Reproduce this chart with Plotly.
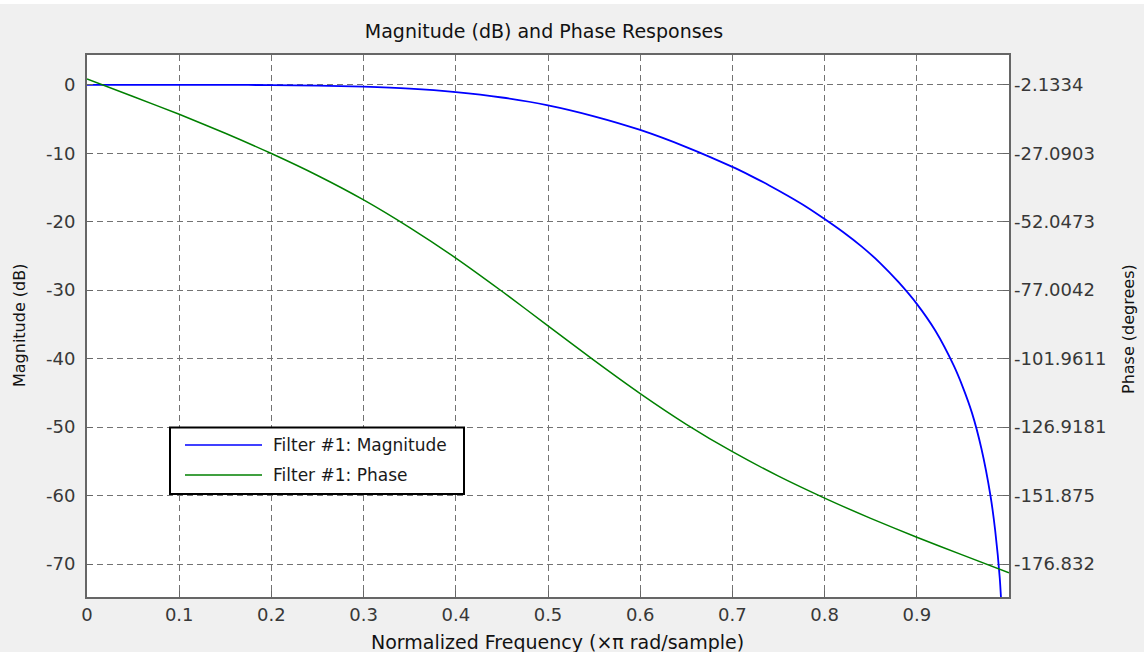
import plotly.graph_objects as go

# ---------------- data ----------------
freq_mag = [0, 0.05, 0.1, 0.15, 0.2, 0.25, 0.3, 0.35, 0.4, 0.45, 0.5, 0.55, 0.6,
            0.65, 0.7, 0.72, 0.74, 0.76, 0.78, 0.8, 0.82, 0.84, 0.86, 0.88, 0.9, 0.92,
            0.94, 0.95, 0.96, 0.97, 0.98, 0.985, 0.99, 0.995]
mag_db = [0, 0, 0, -0.01, -0.05, -0.13, -0.28, -0.56, -1.07, -1.86, -3.0, -4.6, -6.6,
          -9.1, -12.0, -13.3, -14.7, -16.2, -17.8, -19.6, -21.5, -23.6, -26.0, -28.8, -32.0,
          -35.9, -41.0, -44.2, -48.0, -53.1, -60.1, -65.1, -72.1, -84.2]

freq_phase = [0, 0.05, 0.1, 0.15, 0.2, 0.25, 0.3, 0.35, 0.4, 0.45, 0.5, 0.55, 0.6,
              0.65, 0.7, 0.75, 0.8, 0.85, 0.9, 0.95, 1.0]
phase_deg = [0, -6.4, -12.9, -19.8, -27.2, -35.2, -44.1, -54.2, -65.3, -77.4, -90.0,
             -102.6, -114.7, -125.9, -135.9, -144.8, -152.8, -160.2, -167.1, -173.6, -180.0]

x_ticks = [0, 0.1, 0.2, 0.3, 0.4, 0.5, 0.6, 0.7, 0.8, 0.9]
x_ticktext = ["0", "0.1", "0.2", "0.3", "0.4", "0.5", "0.6", "0.7", "0.8", "0.9"]
mag_ticks = [0, -10, -20, -30, -40, -50, -60, -70]
mag_ticktext = ["0", "-10", "-20", "-30", "-40", "-50", "-60", "-70"]
phase_ticks = [-2.1334, -27.0903, -52.0473, -77.0042, -101.9611, -126.9181, -151.875, -176.832]
phase_ticktext = ["-2.1334", "-27.0903", "-52.0473", "-77.0042", "-101.9611", "-126.9181",
                  "-151.875", "-176.832"]

series_names = ["Filter #1: Magnitude", "Filter #1: Phase"]
series_colors = ["#0000ff", "#008000"]

mag_range = [-74.82, 4.35]
# phase axis is linked linearly to magnitude axis (same grid)
ph_scale = (phase_ticks[1] - phase_ticks[0]) / (mag_ticks[1] - mag_ticks[0])
phase_range = [phase_ticks[0] + ph_scale * mag_range[0], phase_ticks[0] + ph_scale * mag_range[1]]

FONT = "DejaVu Sans"
TICK_COLOR = "#383838"
TEXT_COLOR = "#121212"
GRID_COLOR = "#737373"
FRAME_COLOR = "#666666"

fig = go.Figure()
fig.add_trace(go.Scatter(x=freq_mag, y=mag_db, mode="lines", name=series_names[0],
                         line=dict(color=series_colors[0], width=1.8, shape="spline", smoothing=0.6),
                         showlegend=False))
fig.add_trace(go.Scatter(x=freq_phase, y=phase_deg, mode="lines", name=series_names[1],
                         yaxis="y2",
                         line=dict(color=series_colors[1], width=1.5, shape="spline", smoothing=0.6),
                         showlegend=False))

W, H = 1144, 652
L, R, T, B = 87, 135, 55, 55
pw, ph = W - L - R, H - T - B


def px_to_paper(px, py):
    return (px - L) / pw, (H - B - py) / ph


fig.update_layout(
    width=W, height=H,
    margin=dict(l=L, r=R, t=T, b=B, pad=0),
    paper_bgcolor="#f0f0f0",
    plot_bgcolor="#ffffff",
    font=dict(family=FONT, size=18, color=TICK_COLOR),
    title=dict(text="Magnitude (dB) and Phase Responses", x=544 / W, xref="container",
               xanchor="center", y=1 - 31 / H, yref="container", yanchor="middle",
               font=dict(family=FONT, size=19, color=TEXT_COLOR)),
    xaxis=dict(range=[0, 1], tickvals=x_ticks, ticktext=x_ticktext,
               showgrid=True, gridcolor=GRID_COLOR, griddash="6px,4px", gridwidth=1.4,
               showline=True, linecolor=FRAME_COLOR, linewidth=2, mirror=True,
               ticks="inside", ticklen=6, tickcolor=FRAME_COLOR, zeroline=False,
               tickfont=dict(family=FONT, size=18, color=TICK_COLOR)),
    yaxis=dict(range=mag_range, tickvals=mag_ticks, ticktext=mag_ticktext,
               showgrid=True, gridcolor=GRID_COLOR, griddash="6px,4px", gridwidth=1.4,
               showline=True, linecolor=FRAME_COLOR, linewidth=2, mirror=True,
               ticks="inside", ticklen=6, tickcolor=FRAME_COLOR, zeroline=False,
               ticklabelstandoff=6,
               tickfont=dict(family=FONT, size=18, color=TICK_COLOR)),
    yaxis2=dict(range=phase_range, tickvals=phase_ticks, ticktext=phase_ticktext,
                overlaying="y", side="right", showgrid=False, zeroline=False,
                showline=False, ticks="inside", ticklen=6, tickcolor=FRAME_COLOR,
                ticklabelstandoff=4,
                tickfont=dict(family=FONT, size=18, color=TICK_COLOR)),
    showlegend=False,
)

annotations = []
# axis titles
ax, ay = px_to_paper(557, 642)
annotations.append(dict(text="Normalized Frequency (×π rad/sample)", x=ax, y=ay,
                        xref="paper", yref="paper", showarrow=False, xanchor="center",
                        yanchor="middle", font=dict(family=FONT, size=19, color=TEXT_COLOR)))
ax, ay = px_to_paper(19, 326)
annotations.append(dict(text="Magnitude (dB)", x=ax, y=ay, xref="paper", yref="paper",
                        showarrow=False, textangle=-90, xanchor="center", yanchor="middle",
                        font=dict(family=FONT, size=16, color=TEXT_COLOR)))
ax, ay = px_to_paper(1128, 329)
annotations.append(dict(text="Phase (degrees)", x=ax, y=ay, xref="paper", yref="paper",
                        showarrow=False, textangle=-90, xanchor="center", yanchor="middle",
                        font=dict(family=FONT, size=16, color=TEXT_COLOR)))

shapes = []
# thin white strip along the top edge of the window, as in the reference
sx0, sy0 = px_to_paper(0, 4)
sx1, sy1 = px_to_paper(W, 0)
shapes.append(dict(type="rect", xref="paper", yref="paper", x0=sx0, y0=sy0, x1=sx1, y1=sy1,
                   fillcolor="#ffffff", line=dict(width=0), layer="below"))

# legend box (drawn as a framed box with line samples)
bx0, by0 = px_to_paper(170, 494)
bx1, by1 = px_to_paper(464, 427.5)
shapes.append(dict(type="rect", xref="paper", yref="paper", x0=bx0, y0=by0, x1=bx1, y1=by1,
                   fillcolor="#ffffff", line=dict(color="#000000", width=2), layer="above"))
row_py = [445, 475]
for name, color, py in zip(series_names, series_colors, row_py):
    lx0, ly = px_to_paper(185, py)
    lx1, _ = px_to_paper(262, py)
    shapes.append(dict(type="line", xref="paper", yref="paper", x0=lx0, x1=lx1, y0=ly, y1=ly,
                       line=dict(color=color, width=1.5), layer="above"))
    tx, _ = px_to_paper(271, py)
    annotations.append(dict(text=name, x=tx, y=ly, xref="paper", yref="paper",
                            showarrow=False, xanchor="left", yanchor="middle",
                            font=dict(family=FONT, size=17, color="#1a1a1a")))

fig.update_layout(shapes=shapes, annotations=annotations)

fig.write_html(
    "out.html",
    config={"displayModeBar": False},
    post_script="document.body.style.margin='0';document.body.style.padding='0';"
                "document.body.style.overflow='hidden';",
)
